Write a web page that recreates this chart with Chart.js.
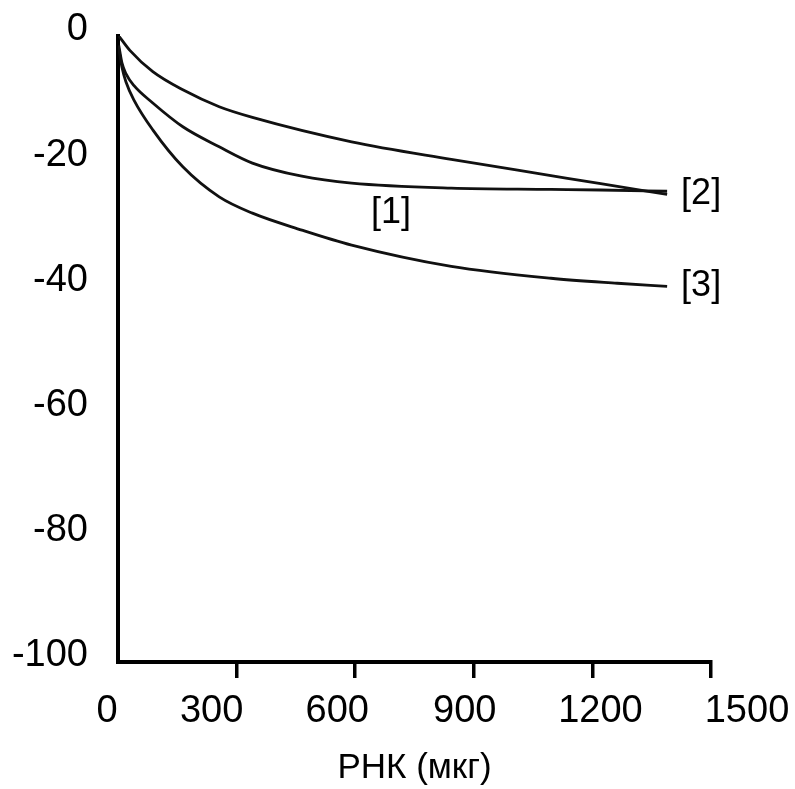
<!DOCTYPE html>
<html>
<head>
<meta charset="utf-8">
<script src="https://cdn.jsdelivr.net/npm/chart.js@4/dist/chart.umd.min.js"></script>
<style>
html,body{margin:0;padding:0;background:#fff;}
#wrap{width:795px;height:789px;}
</style>
</head>
<body>
<div id="wrap"><canvas id="c" width="795" height="789"></canvas></div>
<script>
// Tick labels
const xTicks = [0, 300, 600, 900, 1200, 1500];
const yTicks = [0, -20, -40, -60, -80, -100];
const xTitle = 'РНК (мкг)';

// Series [1] (middle curve)
const s1X = [2, 10, 20, 40, 88, 164, 256, 340, 465, 591, 843, 1095, 1221, 1389];
const s1Y = [-1.5, -4.3, -6.0, -7.9, -10.7, -14.5, -17.7, -20.3, -22.4, -23.5, -24.3, -24.5, -24.6, -24.8];
// Series [2] (upper curve)
const s2X = [2, 30, 88, 164, 256, 340, 591, 843, 1095, 1221, 1389];
const s2Y = [0, -2.3, -5.7, -8.6, -11.3, -13.0, -16.9, -19.7, -22.3, -23.6, -25.3];
// Series [3] (lower curve)
const s3X = [2, 10, 20, 40, 88, 164, 256, 340, 465, 591, 843, 1095, 1263, 1389];
const s3Y = [-2.0, -5.0, -7.3, -10.2, -15.0, -20.9, -25.7, -28.3, -31.0, -33.4, -36.8, -38.7, -39.5, -40.0];

const seriesNames = ['[1]', '[2]', '[3]'];

const FAMILY = '"Liberation Sans", Arial, Helvetica, sans-serif';

function pts(xs, ys) { return xs.map((x, i) => ({ x: x, y: ys[i] })); }

// Curve labels drawn through the scales
const curveLabels = {
  id: 'curveLabels',
  afterDatasetsDraw(chart, args, opts) {
    const ctx = chart.ctx;
    const xs = chart.scales.x, ys = chart.scales.y;
    ctx.save();
    ctx.fillStyle = '#000';
    ctx.font = '36px ' + FAMILY;
    ctx.textBaseline = 'middle';
    ctx.textAlign = 'left';
    opts.items.forEach(it => {
      const ds = chart.data.datasets[it.dataset];
      let px, py;
      if (it.atEnd) {
        const last = ds.data[ds.data.length - 1];
        px = xs.getPixelForValue(last.x) + it.dx;
        py = ys.getPixelForValue(last.y) + it.dy;
      } else {
        px = xs.getPixelForValue(it.x) + it.dx;
        py = ys.getPixelForValue(it.y) + it.dy;
      }
      ctx.fillText(ds.label, px, py);
    });
    ctx.restore();
  }
};

// Per-label horizontal nudge of the x tick labels (style only)
const xLabelNudge = {
  id: 'xLabelNudge',
  beforeDraw(chart, args, opts) {
    const sc = chart.scales.x;
    const items = sc.getLabelItems();
    items.forEach((it, i) => {
      if (!it._nudged) {
        it.options.translation[0] += (opts.offsets[i] || 0);
        it._nudged = true;
      }
    });
  }
};

new Chart(document.getElementById('c'), {
  type: 'line',
  data: {
    datasets: [
      { label: seriesNames[0], data: pts(s1X, s1Y) },
      { label: seriesNames[1], data: pts(s2X, s2Y) },
      { label: seriesNames[2], data: pts(s3X, s3Y) }
    ]
  },
  options: {
    responsive: false,
    animation: false,
    devicePixelRatio: 1,
    layout: { padding: { left: 0, top: 36, right: 84, bottom: 0 } },
    elements: {
      point: { radius: 0, hoverRadius: 0 },
      line: { borderColor: '#111', borderWidth: 2.8, cubicInterpolationMode: 'monotone', fill: false }
    },
    plugins: {
      legend: { display: false },
      tooltip: { enabled: false },
      xLabelNudge: { offsets: [-11, -25, -18, -9, 8, 36] },
      curveLabels: {
        items: [
          { dataset: 0, x: 640, y: -24, dx: 0, dy: 27 },
          { dataset: 1, atEnd: true, dx: 14, dy: 0 },
          { dataset: 2, atEnd: true, dx: 14, dy: 0 }
        ]
      }
    },
    scales: {
      x: {
        type: 'linear', min: 0, max: 1500,
        afterBuildTicks: s => { s.ticks = xTicks.map(v => ({ value: v })); },
        afterFit: s => { s.height = 127; s.paddingLeft = 0; s.paddingRight = 0; },
        border: { display: true, color: '#000', width: 4 },
        grid: {
          display: true, drawOnChartArea: false, drawTicks: true, tickLength: 16,
          lineWidth: 3.5,
          color: c => (c.tick && c.tick.value === 0) ? 'rgba(0,0,0,0)' : '#000'
        },
        ticks: {
          color: '#000', font: { family: FAMILY, size: 38 }, padding: 11,
          maxRotation: 0, autoSkip: false, callback: v => String(v)
        },
        title: {
          display: true, text: xTitle, color: '#000',
          font: { family: FAMILY, size: 35 }, padding: { top: 0, bottom: 0 }
        }
      },
      y: {
        type: 'linear', min: -100, max: 0,
        afterBuildTicks: s => { s.ticks = yTicks.map(v => ({ value: v })); },
        afterFit: s => { s.width = 118; s.paddingTop = 0; s.paddingBottom = 0; },
        border: { display: true, color: '#000', width: 4 },
        grid: { display: false, drawTicks: false },
        ticks: {
          color: '#000', font: { family: FAMILY, size: 38 }, padding: 30,
          labelOffset: -6, callback: v => String(v)
        }
      }
    }
  },
  plugins: [xLabelNudge, curveLabels]
});
</script>
</body>
</html>
